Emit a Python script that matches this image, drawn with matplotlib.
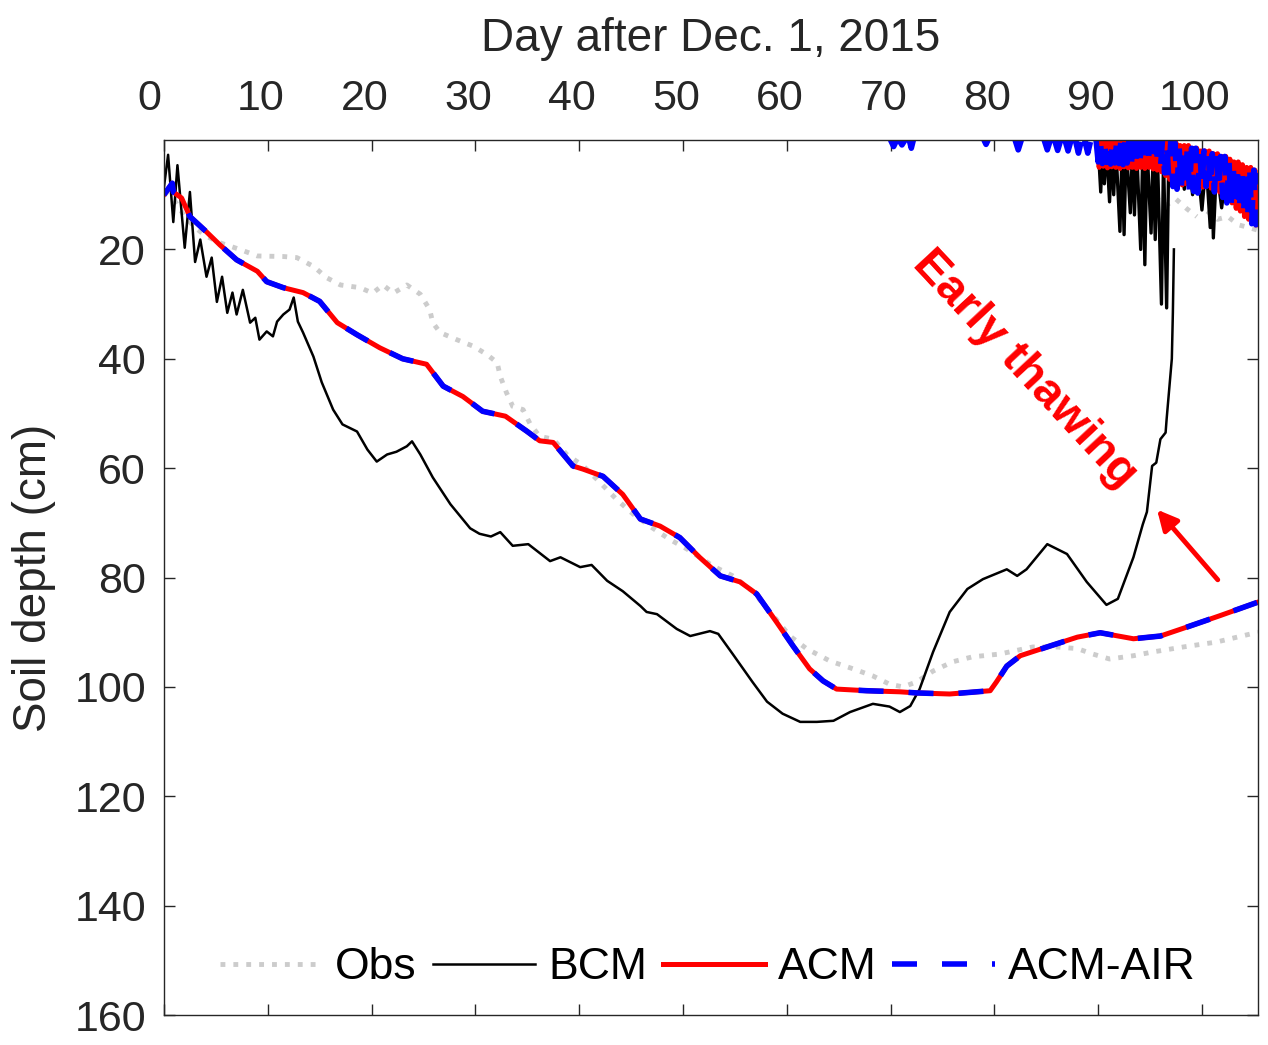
import numpy as np
import matplotlib
matplotlib.use('Agg')
import matplotlib.pyplot as plt
from matplotlib.transforms import ScaledTranslation

nan = np.nan

# observed frost front (lower) and thaw front from the surface (upper)
obs_day = [0, 1, 2, 3, 4, 5.4, 7.3, 9, 11.5, 12.8, 14.4, 15.7, 17, 18.9, 20.1, 21.1, 22.1,
           23.4, 24.7, 25.6, 25.9, 26.6, 28.2, 29.8, 31.1, 32.1, 32.4, 33, 33.6, 34.6, 35.3,
           36.2, 37.5, 38.8, 40.4, 42, 43.6, 45.2, 46.8, 48.7, 50.4, 52.9, 54.8, 56.7, 58.7,
           60.3, 61.9, 64.2, 66.4, 68.3, 69.9, 71.2, 72.5, 74.1, 76, 77.9, 80.5, 83.7, 86,
           88, 89.5, 91.1, 93.4, 95.3, 98.2, 101.4, 105.4]
obs_depth = [9.5, 11, 14, 16, 17.5, 18.8, 20, 21.2, 21.3, 21.5, 23.1, 25.2, 26.5, 27, 28, 26.5, 28,
             26.5, 28.2, 31, 33.4, 35.2, 36.5, 37.7, 39.2, 40.7, 43.2, 46.2, 48.7, 49.3, 52,
             54.2, 54.7, 57.5, 59.6, 62.6, 65.7, 68.4, 70.6, 73, 74.8, 77.9, 79.7, 82.5, 87,
             90.7, 93, 95.3, 96.7, 98, 99.5, 100, 99.1, 97.1, 95.4, 94.5, 94, 92.7, 92.7,
             93, 94, 94.9, 94.3, 93.6, 92.7, 91.8, 90]
obs_top_day = [95.5, 96.5, 97.5, 98.5, 99.5, nan, 100.5, 101.5, 102.5, 103.5, 104.5, 105.4]
obs_top_depth = [10.5, 12, 10.8, 12.5, 14, nan, 13, 14.5, 14, 15.5, 16, 16.5]

bcm_day = [0, 0.4, 0.9, 1.3, 2, 2.5, 3, 3.5, 4.1, 4.6, 5.1, 5.6, 6.1, 6.6, 7, 7.6, 8.3, 8.8,
           9.2, 9.9, 10.5, 10.9, 11.5, 12.1, 12.5, 12.9, 13.4, 14.4, 15.2, 16.3, 17.2, 18.6,
           19.6, 20.5, 21.5, 22.4, 23.4, 23.9, 24.7, 25.9, 27.6, 29.5, 30.4, 31.5, 32.4, 33.6,
           35.1, 37.2, 38.2, 40.1, 41.2, 42.7, 44.2, 45.9, 46.5, 47.5, 49.4, 50.7, 52.6, 53.4,
           54.8, 56.7, 58.1, 59.6, 61.3, 62.9, 64.5, 66.1, 68.3, 69.9, 70.9, 71.9, 72.8, 74.1,
           75.7, 77.4, 78.9, 81.2, 82.2, 83.1, 85.1, 87, 88.9, 90.8, 91.9, 93.4, 94.3, 94.7,
           95.2, 95.6, 96, 96.5, 96.6, 97.1, 97.2, 97.3]
bcm_depth = [8.6, 2.7, 15, 4.6, 19.7, 9.5, 22.3, 18.2, 25, 21.5, 29.6, 25, 31.6, 27.9, 31.9, 27.4, 33.4, 32.5,
             36.5, 35, 35.9, 33.2, 31.9, 31, 28.8, 33.2, 35.2, 39.6, 44.3, 49.3, 52, 53.3,
             56.6, 58.8, 57.5, 57, 56, 55.1, 57.5, 61.7, 66.6, 71, 72, 72.5, 71.7, 74.2,
             73.9, 77, 76.3, 78.1, 77.7, 80.6, 82.5, 85.2, 86.3, 86.7, 89.4, 90.7, 89.8, 90.3,
             94, 99.1, 102.7, 104.9, 106.4, 106.4, 106.2, 104.6, 103.1, 103.6, 104.6, 103.5, 100.4, 93.6,
             86.3, 82.1, 80.3, 78.5, 79.7, 78.5, 73.9, 75.7, 80.8, 85, 83.9, 76.3, 70.3, 68,
             59.6, 59, 54.7, 53.5, 51, 40, 31.6, 20]
bcm_top_day = [90.0, 90.25, 90.4, 90.6, 90.8, 91.1, 91.3, 91.5, 91.7, 92.1, 92.3, 92.5, 92.7,
               93.1, 93.3, 93.5, 93.7, 94.1, 94.3, 94.5, 94.7, 95.1, 95.3, 95.5, 95.7, 96.1,
               96.3, 96.6, 96.8, 97.3, 97.6, 97.9, 98.3, 98.7, 99.1, 99.5, 100.0, 100.4, 100.8,
               100.95, 101.1, 101.4, 101.9, 102.3, 102.8, 103.3, 103.8, 104.3, 104.8, 105.4]
bcm_top_depth = [1, 9.5, 2, 8, 1, 11.3, 2, 10, 1, 16.7, 2, 17.3, 1,
                 13.3, 2, 13.7, 1, 20, 2, 22.8, 1, 17, 2, 18.2, 2, 30,
                 3, 30.7, 3, 3, 8, 2, 9, 3, 10, 3, 12.8, 4, 16,
                 6, 17.9, 5, 12.4, 6, 11, 7, 12, 8, 13, 14]

acm_day = [0, 0.8, 0.9, 1.7, 2.5, 4.1, 5.4, 7, 9, 9.9, 11.5, 13.4, 15, 16.7, 18.6, 20.8, 23,
           25.3, 26.9, 28.8, 30.7, 32.9, 35, 36.2, 37.5, 39.4, 40.4, 42.3, 44.2, 45.9, 47.8,
           49.7, 51.6, 53.6, 55.5, 57.1, 59, 60.6, 62.2, 63.5, 64.8, 67.7, 70.9, 72.5, 75.7,
           79.6, 80.2, 81.2, 82.5, 85.4, 88, 90.2, 93.4, 96, 98.8, 101.7, 105.4]
acm_depth = [10, 7.9, 9.5, 10.6, 14, 16.8, 19.2, 21.9, 24, 25.9, 27, 27.9, 29.5, 33.4, 35.6, 38, 40,
             41, 45, 46.9, 49.6, 50.5, 53.3, 55, 55.3, 59.6, 60.2, 61.5, 64.8, 69.3, 70.6,
             72.7, 76.3, 79.7, 80.8, 83, 88.1, 92.5, 96.7, 98.9, 100.4, 100.7, 100.9, 101.1, 101.3,
             100.7, 99.1, 96.2, 94.3, 92.5, 90.9, 90.1, 91.2, 90.7, 88.9, 87, 84.5]
acm_top_day = [89.9, 90.1, 90.3, 90.5, 90.7, 90.9, 91.1, 91.3, 91.5, 91.7, 91.9, 92.1, 92.3,
               92.5, 92.7, 92.9, 93.1, 93.3, 93.5, 93.7, 93.9, 94.1, 94.3, 94.5, 94.7, 94.9,
               95.1, 95.3, 95.5, 95.7, 95.9, 96.1, 96.3, 96.5, 96.7, 96.9, 97.1, 97.3, 97.5,
               97.7, 97.9, 98.1, 98.3, 98.5, 98.7, 98.9, 99.1, 99.3, 99.5, 99.7, 99.9, 100.1,
               100.3, 100.5, 100.7, 100.9, 101.1, 101.3, 101.5, 101.7, 101.9, 102.1, 102.3,
               102.5, 102.7, 102.9, 103.1, 103.3, 103.5, 103.7, 103.9, 104.1, 104.3, 104.5,
               104.7, 104.9, 105.1, 105.3]
acm_top_depth = [0, 5.0, 0, 4.8, 0, 5.1, 0, 4.9, 0, 5.0, 0, 5.2, 0,
                 4.9, 0, 5.1, 0, 5.0, 0, 5.2, 0, 5.0, 0, 5.2, 0, 5.0,
                 0, 5.3, 0, 5.5, 0, 5.8, 0, 6.5, 0, 7.2, 0, 7.8, 0.5,
                 8.0, 1, 8.2, 1, 8.0, 1, 8.3, 1.5, 8.5, 1.5, 8.2, 2, 8.6,
                 2, 8.4, 2, 8.8, 2.5, 9.0, 2.5, 9.5, 3, 10.0, 3,
                 11.0, 3.5, 11.5, 4, 12.5, 4, 13.0, 4.5, 14.0, 5, 14.5,
                 5, 15.0, 5.5, 15.5]

# ACM-AIR overlaps ACM almost everywhere along the lower front
air_day = list(acm_day)
air_depth = list(acm_depth)
air_top_day = [70.0, 70.3, 70.6, nan, 70.8, 71.1, 71.4, nan, 71.8, 72.0, 72.2, nan, 79.0, 79.2, 79.4, nan,
               82.0, 82.3, 82.6, nan, 84.8, 85.1, 85.4, nan, 85.8, 86.1, 86.4, nan, 86.8, 87.1, 87.4, nan,
               87.8, 88.1, 88.4, nan, 88.7, 89.0, 89.3, nan,
               89.8, 90.0, 90.2, 90.4, 90.6, 90.8, 91.0, 91.2, 91.4, 91.6, 91.8, 92.0, 92.2,
               92.4, 92.6, 92.8, 93.0, 93.2, 93.4, 93.6, 93.8, 94.0, 94.2, 94.4, 94.6, 94.8,
               95.0, 95.2, 95.4, 95.6, 95.8, 96.0, 96.2, 96.4, 96.6, 96.8, 97.0, 97.2, 97.4,
               97.6, 97.8, 98.0, 98.2, 98.4, 98.6, 98.8, 99.0, 99.2, 99.4, 99.6, 99.8, 100.0,
               100.2, 100.4, 100.6, 100.8, 101.0, 101.2, 101.4, 101.6, 101.8, 102.0, 102.2,
               102.4, 102.6, 102.8, 103.0, 103.2, 103.4, 103.6, 103.8, 104.0, 104.2, 104.4,
               104.6, 104.8, 105.0, 105.2, 105.4]
air_top_depth = [0, 1.2, 0, nan, 0, 0.9, 0, nan, 0, 1.5, 0, nan, 0, 0.8, 0, nan,
                 0, 1.8, 0, nan, 0, 1.8, 0, nan, 0, 1.9, 0, nan, 0, 2.0, 0, nan,
                 0, 2.4, 0, nan, 0, 2.4, 0, nan,
                 0, 4.0, 0, 4.3, 0, 4.1, 0, 4.4, 0, 4.2, 0, 4.3, 0,
                 4.5, 0, 4.2, 0, 4.4, 0, 4.3, 0, 4.5, 0, 4.3, 0, 4.6,
                 0, 4.4, 0, 4.8, 0, 5.2, 0, 6.0, 0, 7.0, 0, 8.5, 0.5,
                 9.0, 1, 9.5, 1, 9.3, 1, 9.7, 1.5, 9.4, 1.5, 9.7, 2, 9.0,
                 2, 8.5, 2, 9.2, 2.5, 9.5, 2.5, 9.7, 3, 10.5, 3,
                 11.5, 3.5, 12.4, 4, 12.8, 4, 13.5, 4.5, 14.1, 5, 14.5,
                 5, 15.3, 5.5, 15.5, 6]

xticks = np.arange(0, 101, 10)
yticks = np.arange(20, 161, 20)

plt.rcParams['font.family'] = ['Liberation Sans', 'DejaVu Sans']
dark = '#262626'

fig = plt.figure(figsize=(12.68, 10.45), dpi=100)
ax = fig.add_axes([0.1293, 0.0287, 0.8628, 0.8373])

ax.plot(obs_day, obs_depth, ':', color='#cccccc', lw=3.5, label='Obs')
ax.plot(obs_top_day, obs_top_depth, ':', color='#cccccc', lw=3.5)
ax.plot(bcm_day, bcm_depth, '-', color='k', lw=1.8, label='BCM')
ax.plot(bcm_top_day, bcm_top_depth, '-', color='k', lw=2.4)
ax.plot(acm_day, acm_depth, '-', color='red', lw=3.6, label='ACM')
ax.plot(acm_top_day, acm_top_depth, '-', color='red', lw=3.6)
ax.plot(air_day, air_depth, color='blue', lw=4, ls=(0, (4.5, 4.5)), label='ACM-AIR')
ax.plot(air_top_day, air_top_depth, color='blue', lw=4, ls=(0, (4.5, 4.5)))

ax.set_xlim(0, 105.4)
ax.set_ylim(160, 0)
ax.xaxis.tick_top()
ax.xaxis.set_label_position('top')
ax.set_xticks(xticks)
ax.set_yticks(yticks)
ax.tick_params(direction='in', length=8, width=1, top=True, bottom=True, left=True, right=True,
               labelsize=31, colors=dark)
ax.tick_params(axis='x', pad=15.5)
ax.tick_params(axis='y', pad=13)
for s in ax.spines.values():
    s.set_color(dark)
    s.set_linewidth(1)

# top labels sit a little left of their ticks in the original
shift = ScaledTranslation(-7 / 100, 0, fig.dpi_scale_trans)
for i, t in enumerate(ax.xaxis.get_major_ticks()):
    extra = ScaledTranslation(-8 / 100, 0, fig.dpi_scale_trans) if i == 0 else ScaledTranslation(0, 0, fig.dpi_scale_trans)
    t.label2.set_transform(t.label2.get_transform() + shift + extra)

ax.set_xlabel('Day after Dec. 1, 2015', fontsize=33, color=dark, labelpad=20)
ax.set_ylabel('Soil depth (cm)', fontsize=33, color=dark, labelpad=13.5)

ax.annotate('', xy=(95.5, 67.2), xytext=(101.7, 80.8),
            arrowprops=dict(arrowstyle='-|>', color='red', lw=3.5, mutation_scale=30))
ax.text(82.9, 42, 'Early thawing', rotation=-47, color='red', fontsize=34, fontweight='bold',
        ha='center', va='center', rotation_mode='anchor')

ax.legend(loc='center', bbox_to_anchor=(0.497, 0.054), ncol=4, frameon=False, fontsize=32,
          handlelength=2.3, handletextpad=0.3, columnspacing=0.35, borderaxespad=0)

fig.savefig('out.png', dpi=100)
